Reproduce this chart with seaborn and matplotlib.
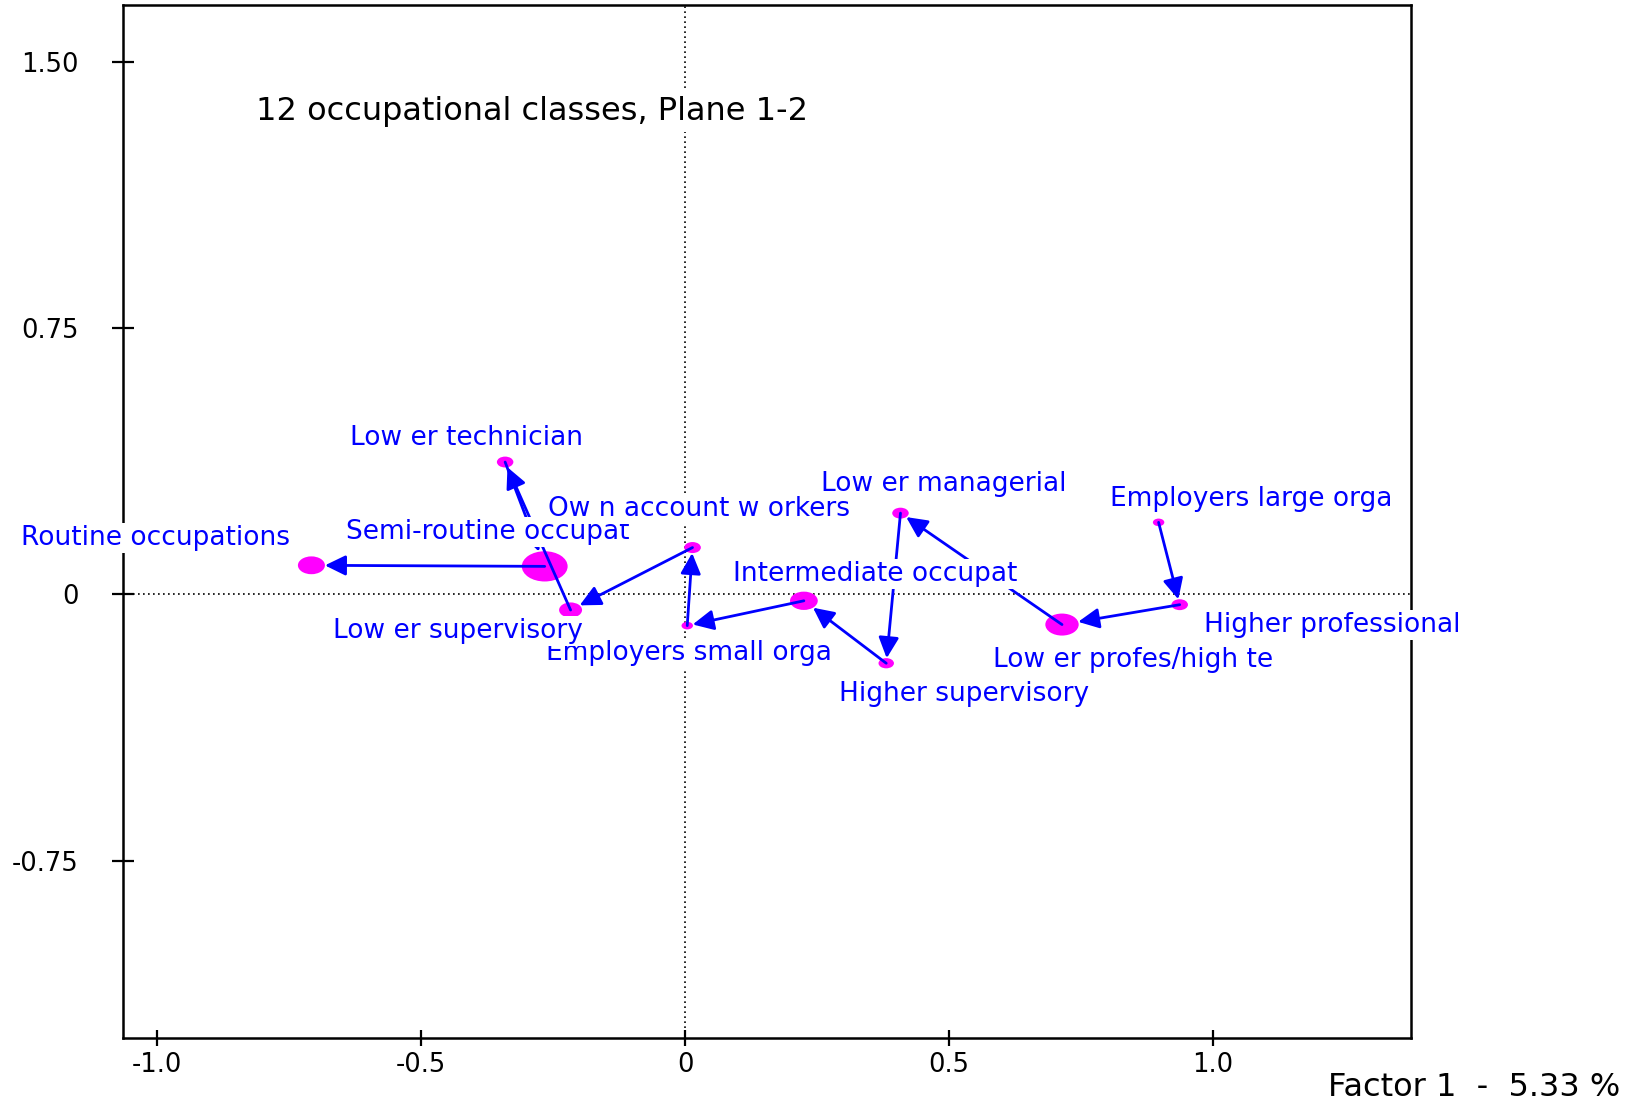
import numpy as np
import pandas as pd
import matplotlib
matplotlib.use("Agg")
import matplotlib.pyplot as plt
from matplotlib.path import Path
from matplotlib.markers import MarkerStyle
from matplotlib.transforms import Affine2D
import seaborn as sns

# ---------------- data (ordered along the trajectory) ----------------
classes = ["Employers large orga", "Higher professional", "Low er profes/high te",
           "Low er managerial", "Higher supervisory", "Intermediate occupat",
           "Employers small orga", "Ow n account w orkers", "Low er supervisory",
           "Low er technician", "Semi-routine occupat", "Routine occupations"]
factor1 = [0.897, 0.937, 0.714, 0.408, 0.381, 0.225, 0.004, 0.014, -0.217, -0.341, -0.266, -0.708]
factor2 = [0.203, -0.029, -0.085, 0.229, -0.194, -0.018, -0.088, 0.132, -0.044, 0.373, 0.079, 0.082]
weights = [2.0, 4.1, 16.6, 4.1, 3.6, 11.5, 2.0, 4.2, 7.9, 4.1, 31.3, 10.9]

x_ticks = [-1.0, -0.5, 0.0, 0.5, 1.0]
x_tick_labels = ["-1.0", "-0.5", "0", "0.5", "1.0"]
y_ticks = [1.5, 0.75, 0.0, -0.75]
y_tick_labels = ["1.50", "0.75", "0", "-0.75"]

title_text = "12 occupational classes, Plane 1-2"
axis_text = "Factor 1  -  5.33 %"

# ---------------- layout / style ----------------
label_offsets = {  # points, label centre relative to point
    "Employers large orga": (67, 16.5),
    "Higher professional": (110, -14.5),
    "Low er profes/high te": (51, -25.5),
    "Low er managerial": (31, 21),
    "Higher supervisory": (56, -22.5),
    "Intermediate occupat": (51, 19.5),
    "Employers small orga": (1, -20),
    "Ow n account w orkers": (4.5, 28),
    "Low er supervisory": (-81, -15),
    "Low er technician": (-28, 17),
    "Semi-routine occupat": (-41, 25),
    "Routine occupations": (-112, 19.5),
}
label_on_top = {"Ow n account w orkers"}
SIZE_RANGE = (68, 1089)
ELL = 0.66
BLUE = "#0000FF"
MAGENTA = "#FF00FF"

sns.set_style("white")
plt.rcParams["font.family"] = ["DejaVu Sans"]

df = pd.DataFrame({"cls": classes, "factor1": factor1, "factor2": factor2, "weight": weights})

fig = plt.figure(figsize=(16.33, 11.04), dpi=100)
ax = fig.add_axes([0.0753, 0.0598, 0.864 - 0.0753, 0.9955 - 0.0598])
ax.set_xlim(-1.065, 1.375)
ax.set_ylim(-1.25, 1.661)

ax.axhline(0, color="black", ls=(0, (1, 2)), lw=1.2, zorder=1)
ax.axvline(0, color="black", ls=(0, (1, 2)), lw=1.2, zorder=1)

ellipse = MarkerStyle(Path.unit_circle().transformed(Affine2D().scale(1.0, ELL)))
wmin, wmax = min(weights), max(weights)
sns.scatterplot(data=df, x="factor1", y="factor2", size="weight", sizes=SIZE_RANGE,
                size_norm=(wmin, wmax), color=MAGENTA, marker=ellipse,
                linewidth=0, edgecolor="none", legend=False, ax=ax, zorder=2)

def half_width_pts(w):
    s = SIZE_RANGE[0] + (w - wmin) / (wmax - wmin) * (SIZE_RANGE[1] - SIZE_RANGE[0])
    return np.sqrt(s) / 2

fig.canvas.draw()
for i in range(len(classes) - 1):
    x1, y1 = factor1[i], factor2[i]
    x2, y2 = factor1[i + 1], factor2[i + 1]
    p1 = ax.transData.transform((x1, y1))
    p2 = ax.transData.transform((x2, y2))
    d = p1 - p2
    th = np.arctan2(d[1], d[0])
    a = half_width_pts(weights[i + 1])
    b = a * ELL
    r = a * b / np.sqrt((b * np.cos(th)) ** 2 + (a * np.sin(th)) ** 2)
    ax.annotate("", xy=(x2, y2), xytext=(x1, y1),
                arrowprops=dict(arrowstyle="-|>,head_length=0.45,head_width=0.22",
                                mutation_scale=28, color=BLUE, lw=2,
                                shrinkA=0, shrinkB=r),
                zorder=3)

for name, x, y in zip(classes, factor1, factor2):
    ox, oy = label_offsets[name]
    ax.annotate(name, xy=(x, y), xytext=(ox, oy), textcoords="offset points",
                ha="center", va="center", fontsize=19, color=BLUE,
                bbox=dict(boxstyle="square,pad=0.08", fc="white", ec="none"),
                zorder=6 if name in label_on_top else 5, annotation_clip=False)

ax.text(0.3176, 0.897, title_text, transform=ax.transAxes, ha="center", va="center",
        fontsize=23, color="black",
        bbox=dict(boxstyle="square,pad=0.15", fc="white", ec="none"), zorder=5)

ax.set_xticks(x_ticks)
ax.set_xticklabels(x_tick_labels)
ax.set_yticks(y_ticks)
ax.set_yticklabels(y_tick_labels)
ax.set_xlabel("")
ax.set_ylabel("")
ax.tick_params(axis="y", direction="inout", length=16, width=1.6, pad=24,
               labelsize=18.5, colors="black", left=True)
ax.tick_params(axis="x", direction="inout", length=12, width=1.6, pad=4,
               labelsize=18.5, colors="black", bottom=True)
for sp in ax.spines.values():
    sp.set_visible(True)
    sp.set_color("black")
    sp.set_linewidth(1.8)

fig.text(1620 / 1633, 1 - 1087 / 1104, axis_text, ha="right", va="center",
         fontsize=23, color="black")

fig.savefig("out.png", dpi=100, facecolor="white")
